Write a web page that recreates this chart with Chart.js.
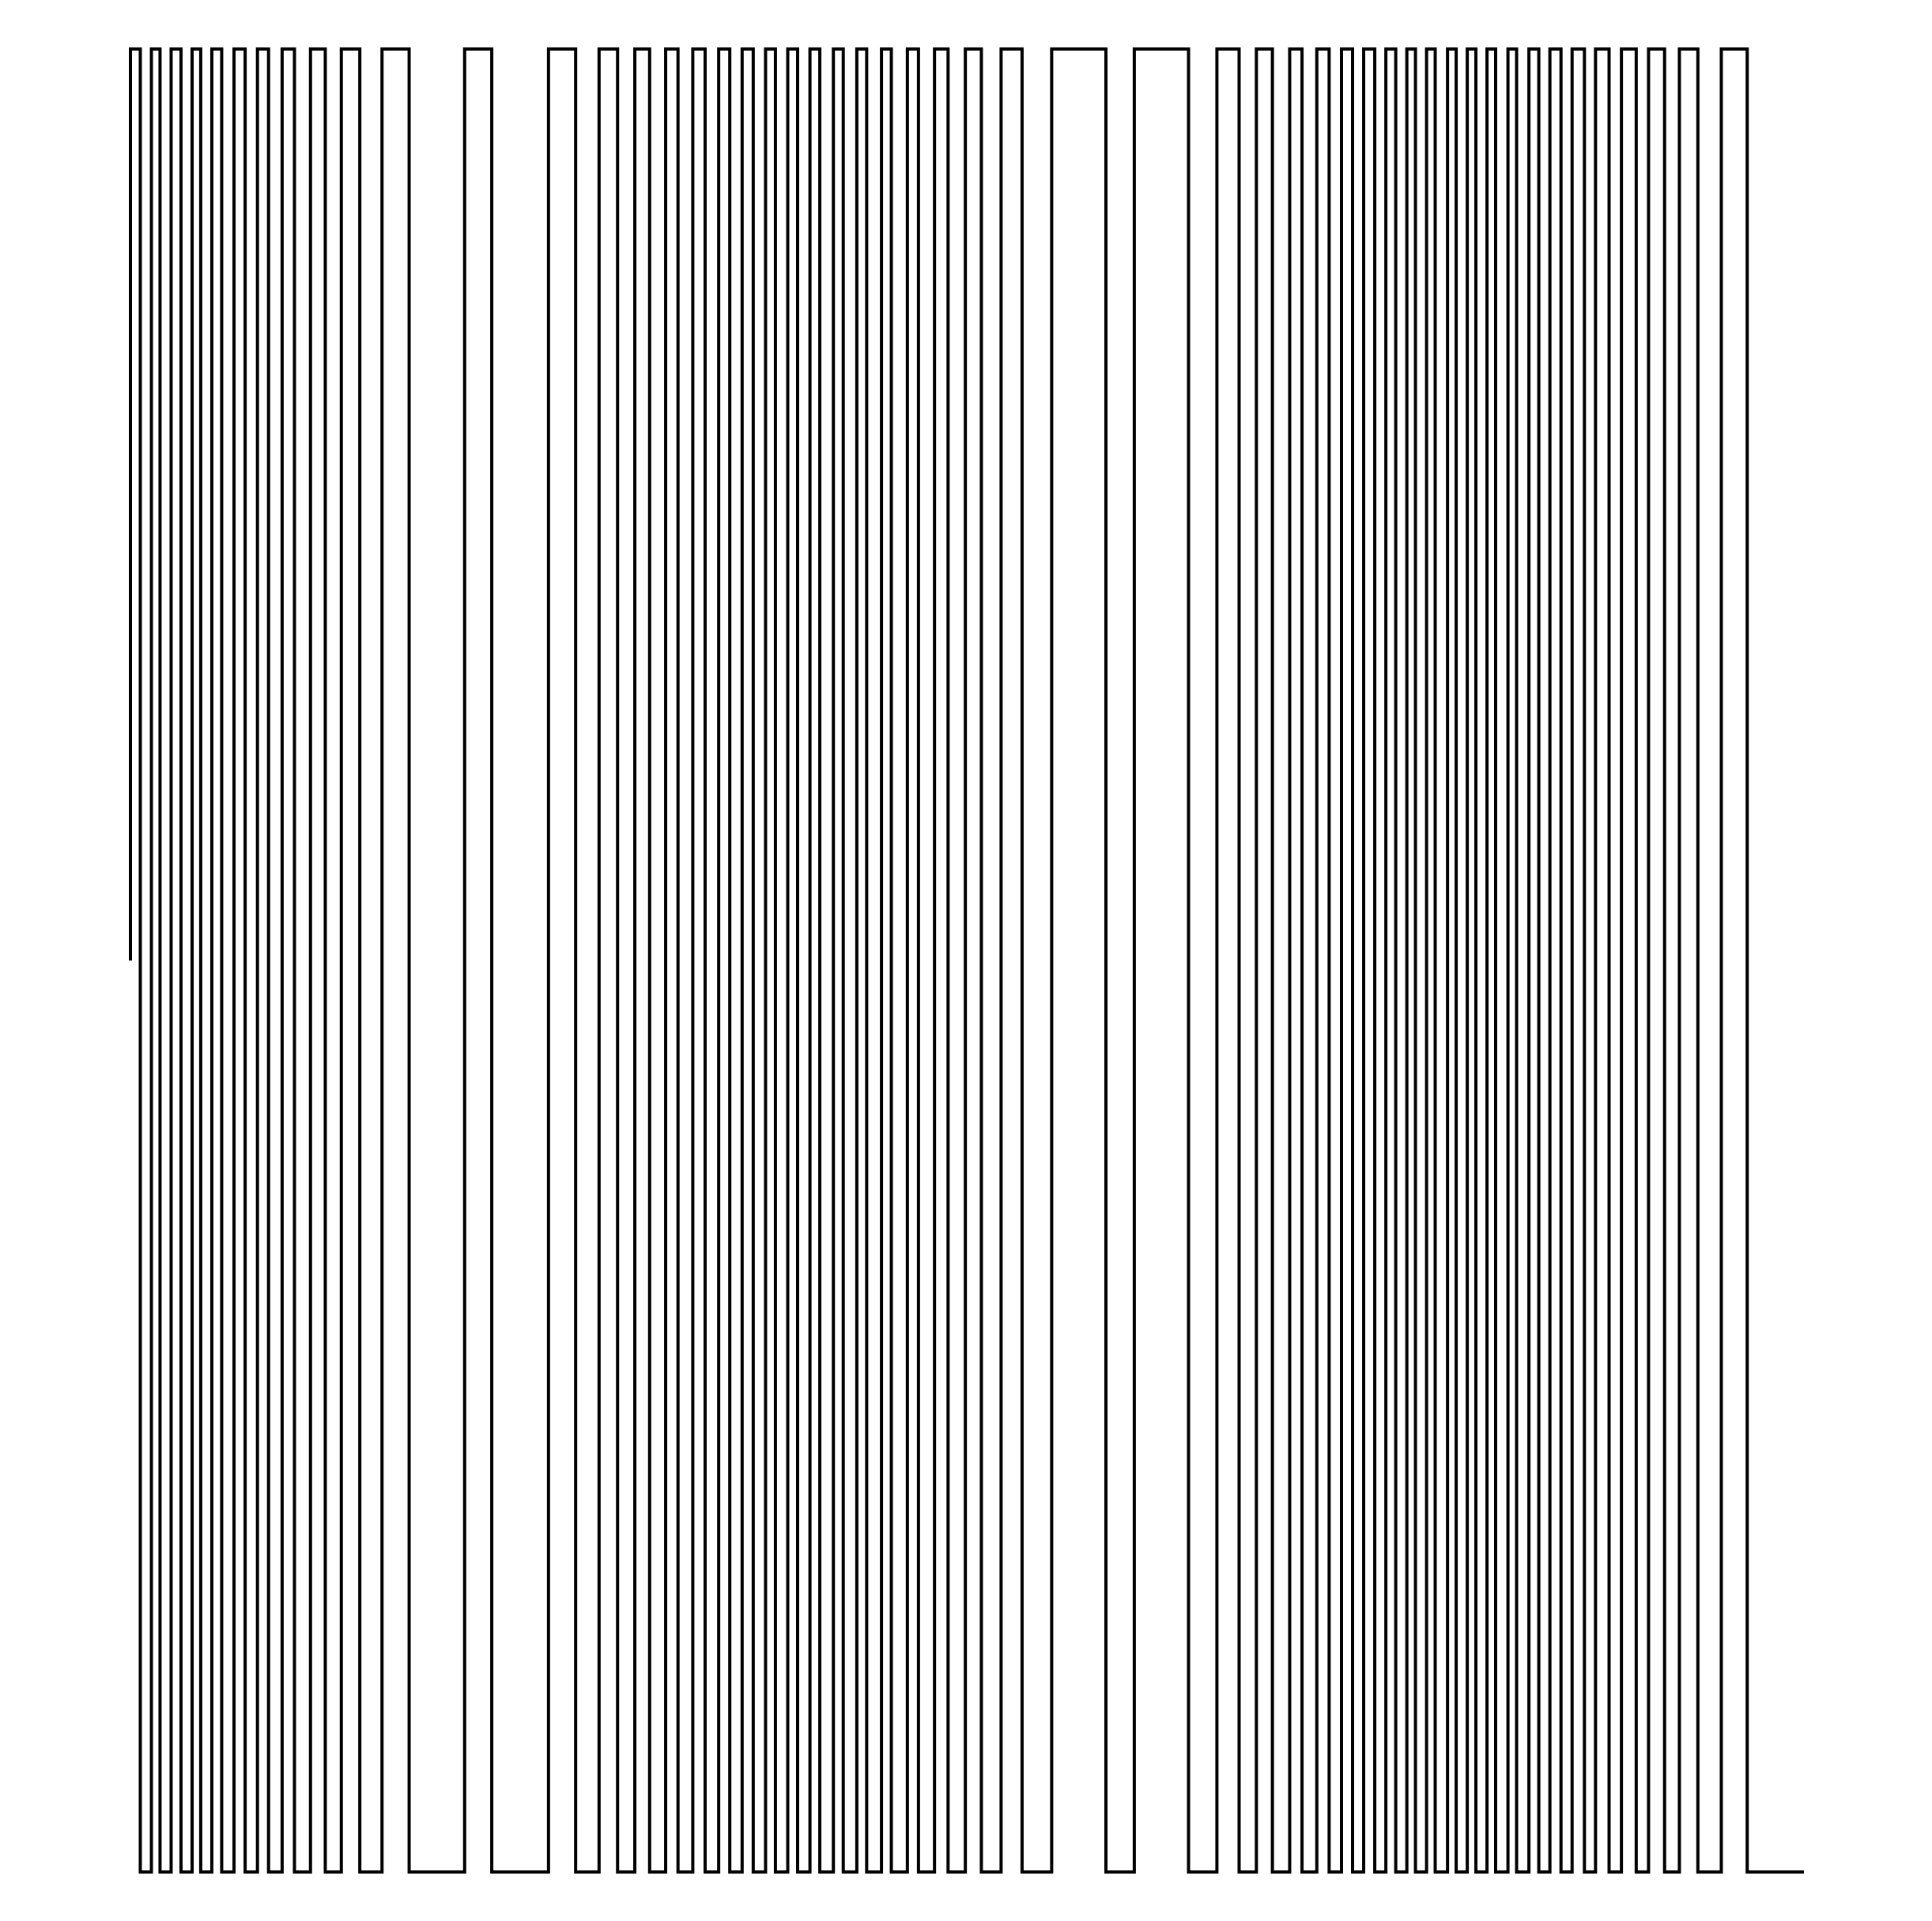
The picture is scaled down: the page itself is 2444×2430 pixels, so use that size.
<!DOCTYPE html>
<html>
<head>
<meta charset="utf-8">
<script src="https://cdn.jsdelivr.net/npm/chart.js@4"></script>
<style>
    html, body { margin: 0; padding: 0; background: #fff; }
    #wrap { width: 2444px; height: 2430px; position: relative; }
</style>
</head>
<body>
<div id="wrap"><canvas id="chart-step"></canvas></div>

<script>
    // times at which the signal flips (arbitrary time units, first flip goes high)
    const switchTimes = [
        0, 8, 17, 24, 33, 41, 50, 57, 66, 74,
        84, 93, 103, 112, 123, 133, 146, 158, 171, 186,
        204, 226, 271, 293, 339, 361, 380, 395, 409, 421,
        434, 444, 456, 466, 477, 486, 496, 505, 515, 523,
        533, 541, 551, 559, 570, 578, 589, 597, 609, 617,
        630, 639, 652, 663, 677, 690, 706, 723, 747, 791,
        814, 858, 881, 899, 913, 926, 940, 950, 962, 972,
        982, 991, 1000, 1009, 1018, 1026, 1035, 1042, 1051, 1058,
        1068, 1075, 1084, 1091, 1100, 1107, 1117, 1124, 1134, 1142,
        1151, 1160, 1169, 1179, 1188, 1199, 1209, 1221, 1231, 1244,
        1256, 1271, 1290, 1311
    ];
    const startLevel = 0;
    const highLevel = 1;
    const lowLevel = -1;
    const endTime = 1357;

    // build the step points: value after each flip, alternating high / low
    const points = [{ x: 0, y: startLevel }];
    switchTimes.forEach(function (t, i) {
        points.push({ x: t, y: i % 2 === 0 ? highLevel : lowLevel });
    });
    points.push({ x: endTime, y: points[points.length - 1].y });

    const ctx = document.getElementById("chart-step").getContext("2d");

    new Chart(ctx, {
        type: "line",
        data: {
            datasets: [{
                data: points,
                stepped: "before",
                borderColor: "#000",
                borderWidth: 4,
                pointRadius: 0,
                fill: false,
                tension: 0,
                clip: false
            }]
        },
        options: {
            responsive: true,
            maintainAspectRatio: false,
            animation: false,
            layout: {
                padding: { left: 165, right: 162, top: 62, bottom: 62 }
            },
            plugins: {
                legend: { display: false },
                tooltip: { enabled: false }
            },
            scales: {
                x: { type: "linear", min: 0, max: endTime, display: false },
                y: { min: lowLevel, max: highLevel, display: false }
            }
        }
    });
</script>
</body>
</html>
